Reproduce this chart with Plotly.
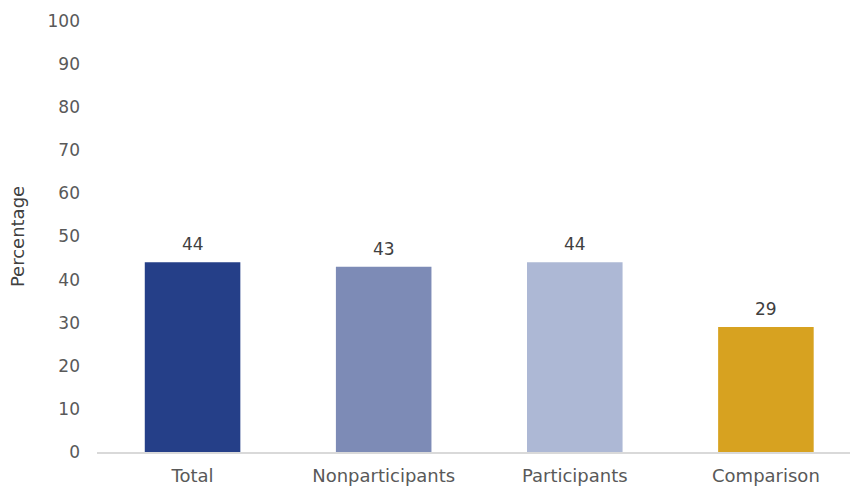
import plotly.graph_objects as go

# Share of each group (percent)
groups = ["Total", "Nonparticipants", "Participants", "Comparison"]
percentages = [44, 43, 44, 29]
bar_colors = ["#253F88", "#7D8BB6", "#ADB8D5", "#D7A220"]
y_ticks = [0, 10, 20, 30, 40, 50, 60, 70, 80, 90, 100]

font_family = "'DejaVu Sans', sans-serif"

fig = go.Figure(
    go.Bar(
        x=groups,
        y=percentages,
        marker=dict(color=bar_colors, line=dict(width=0)),
        width=0.5,
        hoverinfo="x+y",
    )
)

# Value labels sitting a little above each bar
for g, v in zip(groups, percentages):
    fig.add_annotation(
        x=g,
        y=v,
        text=str(v),
        showarrow=False,
        yanchor="bottom",
        yshift=6,
        font=dict(family=font_family, size=17, color="#404040"),
    )

fig.update_layout(
    width=850,
    height=486,
    margin=dict(l=97, r=0, t=21, b=34),
    paper_bgcolor="white",
    plot_bgcolor="white",
    showlegend=False,
    xaxis=dict(
        range=[-0.5, 3.44],
        showgrid=False,
        showline=True,
        linecolor="#D9D9D9",
        linewidth=1.5,
        ticks="",
        tickfont=dict(family=font_family, size=18, color="#595959"),
        ticklabelstandoff=7,
    ),
    yaxis=dict(
        range=[0, 100],
        tickvals=y_ticks,
        showgrid=False,
        zeroline=False,
        showline=False,
        ticks="",
        tickfont=dict(family=font_family, size=17, color="#595959"),
        ticklabelstandoff=16,
        title=dict(
            text="Percentage",
            font=dict(family=font_family, size=18, color="#404040"),
            standoff=18,
        ),
    ),
)

fig.write_html("out.html")
